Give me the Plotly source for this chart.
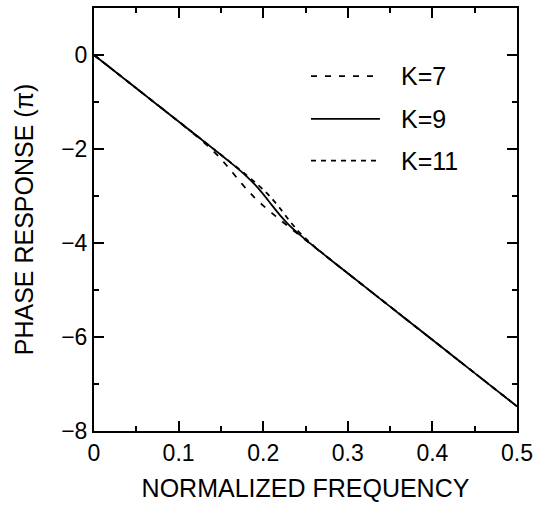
import plotly.graph_objects as go

# Normalized frequency samples
freq = [0.00, 0.05, 0.10, 0.12, 0.13, 0.14, 0.15, 0.16, 0.17, 0.18, 0.19, 0.20,
        0.21, 0.22, 0.23, 0.24, 0.25, 0.26, 0.28, 0.30, 0.35, 0.40, 0.45, 0.50]

# Phase response (units of pi)
phase_k7 = [0.000, -0.708, -1.415, -1.708, -1.861, -2.025, -2.210, -2.417, -2.638, -2.849,
            -3.038, -3.205, -3.360, -3.508, -3.653, -3.796, -3.938, -4.079, -4.362, -4.645,
            -5.353, -6.060, -6.768, -7.475]
phase_k9 = [0.000, -0.708, -1.415, -1.698, -1.840, -1.981, -2.123, -2.269, -2.418, -2.576,
            -2.754, -2.960, -3.190, -3.412, -3.607, -3.775, -3.929, -4.075, -4.362, -4.645,
            -5.353, -6.060, -6.768, -7.475]
phase_k11 = [0.000, -0.708, -1.415, -1.698, -1.840, -1.981, -2.123, -2.264, -2.406, -2.552,
             -2.703, -2.864, -3.049, -3.266, -3.502, -3.719, -3.904, -4.065, -4.360, -4.645,
             -5.353, -6.060, -6.768, -7.475]

series_names = ["K=7", "K=9", "K=11"]
series_values = [phase_k7, phase_k9, phase_k11]
series_dash = ["6px,8px", "solid", "5px,5px"]

x_ticks = [0, 0.1, 0.2, 0.3, 0.4, 0.5]
x_tick_labels = ["0", "0.1", "0.2", "0.3", "0.4", "0.5"]
y_ticks = [-8, -6, -4, -2, 0]
y_tick_labels = ["\u22128", "\u22126", "\u22124", "\u22122", "0"]

FONT = "Liberation Sans, Arial, Helvetica, sans-serif"

fig = go.Figure()
for name, vals, dash in zip(series_names, series_values, series_dash):
    fig.add_trace(go.Scatter(x=freq, y=vals, mode="lines", name=name,
                             line=dict(color="black", width=1.8, dash=dash, shape="spline", smoothing=0.6),
                             showlegend=False))

# Manual legend (key lines + labels) in paper coordinates
leg_y = [0.839, 0.738, 0.639]
for name, dash, yy in zip(series_names, series_dash, leg_y):
    fig.add_shape(type="line", xref="paper", yref="paper", x0=0.513, x1=0.676, y0=yy, y1=yy,
                  line=dict(color="black", width=1.8, dash=dash))
    fig.add_annotation(xref="paper", yref="paper", x=0.722, y=yy, text=name, showarrow=False,
                       xanchor="left", yanchor="middle", font=dict(family=FONT, size=25, color="black"))

axis_common = dict(showline=True, linecolor="black", linewidth=2, mirror="ticks",
                   ticks="inside", ticklen=10, tickwidth=2, tickcolor="black",
                   showgrid=False, zeroline=False,
                   tickfont=dict(family=FONT, size=23, color="black"))

fig.update_xaxes(range=[0, 0.5], tickvals=x_ticks, ticktext=x_tick_labels,
                 minor=dict(dtick=0.05, ticks="inside", ticklen=5, tickwidth=2, tickcolor="black", showgrid=False),
                 title=dict(text="NORMALIZED FREQUENCY", font=dict(family=FONT, size=25, color="black"), standoff=15),
                 **axis_common)
fig.update_yaxes(range=[-8, 1], tickvals=y_ticks, ticktext=y_tick_labels,
                 minor=dict(dtick=1, tick0=-8, ticks="inside", ticklen=5, tickwidth=2, tickcolor="black", showgrid=False),
                 title=dict(text="PHASE RESPONSE (\u03c0)", font=dict(family=FONT, size=25, color="black"), standoff=20),
                 **axis_common)

fig.update_layout(width=543, height=505, margin=dict(l=94, r=26, t=8, b=74, autoexpand=False),
                  plot_bgcolor="white", paper_bgcolor="white", showlegend=False,
                  font=dict(family=FONT, color="black"))

fig.write_html("out.html", config={"displayModeBar": False},
               post_script="document.body.style.margin='0';document.body.style.padding='0';")
